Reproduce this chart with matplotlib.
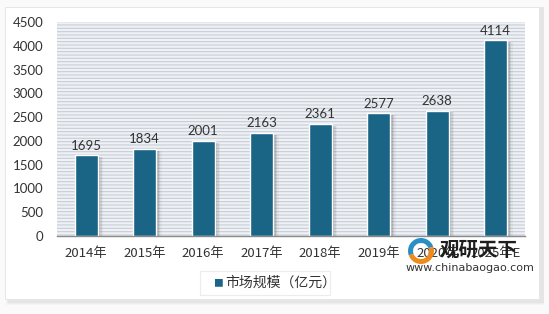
import matplotlib
matplotlib.use("Agg")
import matplotlib.pyplot as plt
from matplotlib.patches import Rectangle, Wedge

plt.rcParams['font.family'] = ['Noto Sans CJK SC', 'DejaVu Sans']
plt.rcParams['hatch.linewidth'] = 0.8

years = ["2014年", "2015年", "2016年", "2017年", "2018年", "2019年", "2020年", "2025年E"]
values = [1695, 1834, 2001, 2163, 2361, 2577, 2638, 4114]
series_name = "市场规模（亿元）"
yticks = [0, 500, 1000, 1500, 2000, 2500, 3000, 3500, 4000, 4500]

W, H = 549, 314
fig = plt.figure(figsize=(W / 100, H / 100), dpi=100)
fig.patch.set_facecolor('#fafafa')

# outer panel with shadow
for i, a in enumerate([0.06, 0.08, 0.10]):
    fig.patches.append(Rectangle(((6 + i) / W, 1 - (305 - i) / H), (538 - i) / W, (298 - i) / H,
                                 transform=fig.transFigure, facecolor='#a0a0a0', alpha=a,
                                 edgecolor='none', zorder=-3))
fig.patches.append(Rectangle((5 / W, 1 - 299 / H), 534 / W, 292 / H, transform=fig.transFigure,
                             facecolor='white', edgecolor='#e4e4e4', lw=0.6, zorder=-2))

ax = fig.add_axes([57 / W, 1 - 236 / H, 468 / W, 214 / H])
ax.set_facecolor('none')
ax.add_patch(Rectangle((0, 0), 1, 1, transform=ax.transAxes, facecolor='#eef2f6',
                       edgecolor='#c8ced6', hatch='-----', lw=0, zorder=0))

x = list(range(len(years)))
bw = 0.4
# shadows
for xi, v in zip(x, values):
    for k, a in enumerate([0.25, 0.15, 0.08]):
        ax.bar(xi + 0.04 + k * 0.025, v, width=bw, bottom=-40, color='#6b6b6b', alpha=a,
               zorder=1, linewidth=0)
ax.bar(x, values, width=bw, color='#1a6486', edgecolor='white', linewidth=1.0, zorder=2)
for xi, v in zip(x, values):
    ax.text(xi, v + 80, str(v), ha='center', va='bottom', fontsize=9.5, color='#333333',
            family=['Lato', 'DejaVu Sans'], zorder=3)

ax.set_xlim(-0.5, len(years) - 0.5)
ax.set_ylim(0, 4500)
ax.set_yticks(yticks)
ax.set_yticklabels([str(t) for t in yticks], fontsize=9.5, color='#333333',
                   family=['Lato', 'DejaVu Sans'])
ax.set_xticks(x)
ax.set_xticklabels(years, fontsize=9.5, color='#333333')
ax.tick_params(axis='both', length=0)
ax.tick_params(axis='x', pad=8)
ax.tick_params(axis='y', pad=10)
for s in ['top', 'right', 'left']:
    ax.spines[s].set_visible(False)
ax.spines['bottom'].set_color('#8a8a8a')
ax.spines['bottom'].set_linewidth(1.0)
ax.spines['bottom'].set_zorder(3)

# legend
fig.patches.append(Rectangle((200 / W, 1 - 295 / H), 130 / W, 24 / H, transform=fig.transFigure,
                             facecolor='white', edgecolor='#ececec', lw=0.8, zorder=1))
fig.text(218 / W, 1 - 283 / H, "■", color='#1a6486', fontsize=7, ha='center', va='center')
fig.text(225 / W, 1 - 283 / H, series_name, color='#333333', fontsize=10, ha='left', va='center')

# watermark logo + text
fig.patches.append(Wedge((421, 63), 13, 20, 200, width=5, transform=None,
                         facecolor='#2a8fc4', edgecolor='none', zorder=5))
fig.patches.append(Wedge((421, 63), 13, 200, 380, width=5, transform=None,
                         facecolor='#f08a1c', edgecolor='none', zorder=5))
fig.text(440 / W, 1 - 250 / H, "观研天下", color='#1e1e1e', fontsize=14, fontweight='bold',
         ha='left', va='center', zorder=6)
fig.text(470 / W, 1 - 268 / H, "www.chinabaogao.com", color='#333333', fontsize=8,
         ha='center', va='center', family=['DejaVu Sans'], zorder=6)

fig.savefig("out.png", dpi=100, facecolor=fig.get_facecolor())
